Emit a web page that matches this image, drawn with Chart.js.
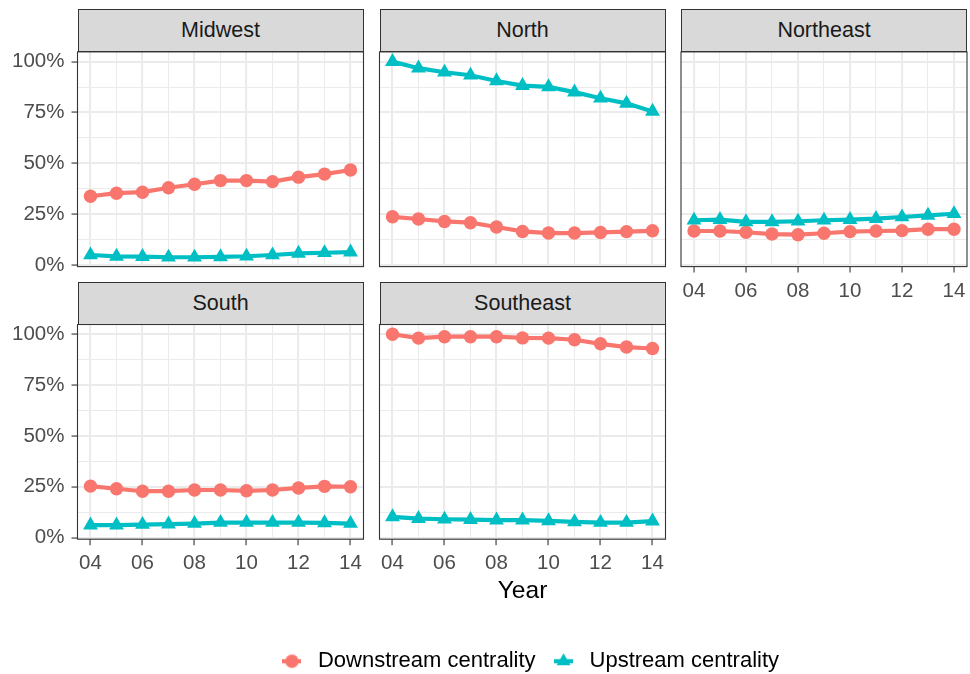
<!DOCTYPE html>
<html>
<head>
<meta charset="utf-8">
<script src="https://cdn.jsdelivr.net/npm/chart.js@4.4.0/dist/chart.umd.min.js"></script>
<style>
  html, body { margin: 0; padding: 0; background: #fff; }
  #wrap { position: relative; width: 970px; height: 674px; overflow: hidden;
          font-family: "Liberation Sans", Arial, sans-serif; }
  #wrap canvas { position: absolute; }
  .strip { position: absolute; box-sizing: border-box; background: #D9D9D9;
           border: 1.1px solid #333333; color: #1A1A1A; font-size: 21.5px;
           display: flex; align-items: center; justify-content: center; }
</style>
</head>
<body>
<div id="wrap"></div>
<script>
/**
 * Centrality by region, 2004-2014 (facet grid of small line charts)
 */
(function () {
    'use strict';

    var years = [2004, 2005, 2006, 2007, 2008, 2009, 2010, 2011, 2012, 2013, 2014];
    var yTicks = [0, 0.125, 0.25, 0.375, 0.5, 0.625, 0.75, 0.875, 1];
    var seriesNames = ['Downstream centrality', 'Upstream centrality'];

    var midwestDown = [0.338, 0.353, 0.358, 0.380, 0.397, 0.415, 0.415, 0.410, 0.432, 0.447, 0.467];
    var midwestUp = [0.049, 0.042, 0.041, 0.038, 0.038, 0.040, 0.043, 0.049, 0.057, 0.060, 0.063];
    var northDown = [0.237, 0.226, 0.214, 0.208, 0.187, 0.165, 0.157, 0.157, 0.160, 0.164, 0.168];
    var northUp = [1.0, 0.968, 0.948, 0.933, 0.905, 0.882, 0.876, 0.850, 0.820, 0.795, 0.755];
    var northeastDown = [0.167, 0.167, 0.161, 0.152, 0.149, 0.156, 0.164, 0.167, 0.169, 0.176, 0.176];
    var northeastUp = [0.220, 0.223, 0.212, 0.212, 0.215, 0.220, 0.223, 0.228, 0.236, 0.244, 0.252];
    var southDown = [0.253, 0.240, 0.228, 0.228, 0.234, 0.234, 0.230, 0.234, 0.244, 0.252, 0.250];
    var southUp = [0.061, 0.061, 0.064, 0.066, 0.069, 0.074, 0.074, 0.074, 0.074, 0.072, 0.069];
    var southeastDown = [1.0, 0.981, 0.988, 0.988, 0.988, 0.982, 0.981, 0.973, 0.953, 0.937, 0.930];
    var southeastUp = [0.102, 0.093, 0.090, 0.088, 0.086, 0.086, 0.082, 0.077, 0.074, 0.074, 0.081];

    var RED = '#F8766D';
    var TEAL = '#00BFC4';
    var FONT = '"Liberation Sans", Arial, sans-serif';

    var colLeft = [77.5, 379.5, 681];
    var rowTop = [51.9, 324.5];
    var PW = 286, PH = 214.7, STRIP_H = 42.6;
    var PAD = 26;

    var wrap = document.getElementById('wrap');

    var panelBorder = {
        id: 'panelBorder',
        afterDraw: function (chart) {
            var a = chart.chartArea, ctx = chart.ctx;
            ctx.save();
            ctx.strokeStyle = '#333333';
            ctx.lineWidth = 1.1;
            ctx.strokeRect(a.left, a.top, a.right - a.left, a.bottom - a.top);
            ctx.restore();
        }
    };

    function isMajorX(c) { return c.tick && c.tick.value % 2 === 0; }
    function isMajorY(c) { return c.tick && Math.abs(c.tick.value * 4 - Math.round(c.tick.value * 4)) < 1e-6; }

    function toPoints(vals) {
        return years.map(function (y, i) { return { x: y, y: vals[i] }; });
    }

    function makePanel(name, col, row, down, up, showY, showX, xTitle) {
        var plotL = colLeft[col], plotT = rowTop[row];
        var yW = showY ? plotL : 0;
        var canvasL = showY ? 0 : Math.floor(plotL - PAD);
        var padL = showY ? 0 : plotL - canvasL;
        var canvasT = Math.floor(plotT - PAD);
        var padT = plotT - canvasT;
        var xH = showX ? (xTitle ? 66.5 : 40) : 0;
        var padB = showX ? 0 : PAD;
        var canvasW = Math.ceil(plotL - canvasL + PW + PAD);
        var padR = canvasW - (plotL - canvasL) - PW;
        var canvasH = Math.ceil(padT + PH + xH + padB);
        padB = canvasH - padT - PH - xH;

        var strip = document.createElement('div');
        strip.className = 'strip';
        strip.textContent = name;
        strip.style.left = plotL + 'px';
        strip.style.top = (plotT - STRIP_H) + 'px';
        strip.style.width = PW + 'px';
        strip.style.height = (STRIP_H + 0.5) + 'px';

        var canvas = document.createElement('canvas');
        canvas.width = canvasW;
        canvas.height = canvasH;
        canvas.style.left = canvasL + 'px';
        canvas.style.top = canvasT + 'px';
        wrap.appendChild(canvas);
        wrap.appendChild(strip);

        new Chart(canvas.getContext('2d'), {
            type: 'line',
            data: {
                datasets: [{
                    label: seriesNames[0],
                    data: toPoints(down),
                    borderColor: RED,
                    backgroundColor: RED,
                    borderWidth: 4.2,
                    pointStyle: 'circle',
                    pointRadius: 6.7,
                    pointBorderWidth: 0,
                    tension: 0,
                    clip: false,
                    order: 1
                }, {
                    label: seriesNames[1],
                    data: toPoints(up),
                    borderColor: TEAL,
                    backgroundColor: TEAL,
                    borderWidth: 4.2,
                    pointStyle: 'triangle',
                    pointRadius: 8.6,
                    pointBorderWidth: 0,
                    tension: 0,
                    clip: false,
                    order: 0
                }]
            },
            options: {
                responsive: false,
                animation: false,
                events: [],
                layout: { padding: { left: padL, top: padT, right: padR, bottom: padB } },
                plugins: { legend: { display: false }, tooltip: { enabled: false } },
                scales: {
                    x: {
                        type: 'linear',
                        min: 2003.5,
                        max: 2014.5,
                        afterBuildTicks: function (s) {
                            s.ticks = years.map(function (v) { return { value: v }; });
                        },
                        afterFit: function (s) { s.height = xH; },
                        border: { display: false },
                        grid: {
                            color: '#EBEBEB',
                            lineWidth: function (c) { return isMajorX(c) ? 2.1 : 1.05; },
                            drawTicks: showX,
                            tickLength: 6,
                            tickWidth: 1.1,
                            tickColor: function (c) { return isMajorX(c) ? '#333333' : 'rgba(0,0,0,0)'; }
                        },
                        ticks: {
                            display: showX,
                            autoSkip: false,
                            maxRotation: 0,
                            padding: 6,
                            color: '#4D4D4D',
                            font: { family: FONT, size: 20.5 },
                            callback: function (v) { return v % 2 === 0 ? String(v).slice(2) : ''; }
                        },
                        title: {
                            display: !!xTitle,
                            text: xTitle || '',
                            color: '#000000',
                            padding: 0,
                            font: { family: FONT, size: 24.6 }
                        }
                    },
                    y: {
                        min: -0.008,
                        max: 1.048,
                        afterBuildTicks: function (s) {
                            s.ticks = yTicks.map(function (v) { return { value: v }; });
                        },
                        afterFit: function (s) { s.width = yW; },
                        border: { display: false },
                        grid: {
                            color: '#EBEBEB',
                            lineWidth: function (c) { return isMajorY(c) ? 2.1 : 1.05; },
                            drawTicks: showY,
                            tickLength: 6,
                            tickWidth: 1.1,
                            tickColor: function (c) { return isMajorY(c) ? '#333333' : 'rgba(0,0,0,0)'; }
                        },
                        ticks: {
                            display: showY,
                            autoSkip: false,
                            padding: 7,
                            color: '#4D4D4D',
                            font: { family: FONT, size: 20.5 },
                            callback: function (v) {
                                return Math.abs(v * 4 - Math.round(v * 4)) < 1e-6 ? Math.round(v * 100) + '%' : '';
                            }
                        }
                    }
                }
            },
            plugins: [panelBorder]
        });
    }

    makePanel('Midwest', 0, 0, midwestDown, midwestUp, true, false);
    makePanel('North', 1, 0, northDown, northUp, false, false);
    makePanel('Northeast', 2, 0, northeastDown, northeastUp, false, true);
    makePanel('South', 0, 1, southDown, southUp, true, true);
    makePanel('Southeast', 1, 1, southeastDown, southeastUp, false, true, 'Year');

    // legend: key = line segment with the series marker, like the ggplot key
    function keyImage(color, style, radius) {
        var c = document.createElement('canvas');
        c.width = 19;
        c.height = 18;
        var g = c.getContext('2d');
        g.strokeStyle = color;
        g.lineWidth = 4.2;
        g.beginPath();
        g.moveTo(0, 9);
        g.lineTo(19, 9);
        g.stroke();
        g.fillStyle = color;
        Chart.helpers.drawPoint(g, { pointStyle: style, radius: radius, borderWidth: 0, rotation: 0 }, 9.5, 9);
        return c;
    }

    var legendCanvas = document.createElement('canvas');
    legendCanvas.width = 970;
    legendCanvas.height = 130;
    legendCanvas.style.left = '0px';
    legendCanvas.style.top = '630px';
    wrap.appendChild(legendCanvas);

    new Chart(legendCanvas.getContext('2d'), {
        type: 'line',
        data: {
            datasets: [
                { label: seriesNames[0], data: [], borderColor: RED, backgroundColor: RED,
                  pointStyle: keyImage(RED, 'circle', 6.7) },
                { label: seriesNames[1], data: [], borderColor: TEAL, backgroundColor: TEAL,
                  pointStyle: keyImage(TEAL, 'triangle', 8) }
            ]
        },
        options: {
            responsive: false,
            animation: false,
            events: [],
            layout: { padding: { left: 86, top: 7.25 } },
            scales: { x: { display: false }, y: { display: false } },
            plugins: {
                tooltip: { enabled: false },
                legend: {
                    display: true,
                    position: 'top',
                    labels: {
                        usePointStyle: true,
                        pointStyleWidth: 30,
                        boxHeight: 18,
                        padding: 13,
                        color: '#000000',
                        font: { family: FONT, size: 22 }
                    }
                }
            }
        }
    });
})();
</script>
</body>
</html>
